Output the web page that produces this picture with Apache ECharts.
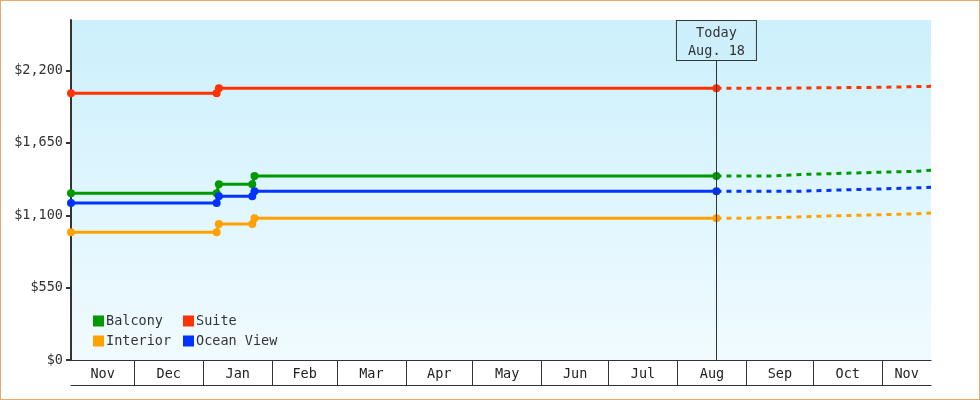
<!DOCTYPE html>
<html>
<head>
<meta charset="utf-8">
<script src="https://cdn.jsdelivr.net/npm/echarts@6/dist/echarts.min.js"></script>
<style>
  html, body { margin: 0; padding: 0; background: #fff; }
  #wrap { position: relative; width: 980px; height: 400px; }
  #chart { position: absolute; left: 0; top: 0; width: 980px; height: 400px; }
  #frame { position: absolute; left: 0; top: 0; width: 980px; height: 400px; box-sizing: border-box;
           border: 1px solid #e8aa66; pointer-events: none; }
</style>
</head>
<body>
<div id="wrap"><div id="chart"></div><div id="frame"></div></div>
<script>
// ---- data ----
const axisStart = '2023-11-02T14:00:00';
const axisEnd = '2024-11-22T21:00:00';
const today = '2024-08-18T12:00:00';
const todayLabel = 'Today\nAug. 18';
const monthBoundaries = ['2023-12-01','2024-01-01','2024-02-01','2024-03-01','2024-04-01','2024-05-01',
                         '2024-06-01','2024-07-01','2024-08-01','2024-09-01','2024-10-01','2024-11-01'];
const monthLabels = ['Nov','Dec','Jan','Feb','Mar','Apr','May','Jun','Jul','Aug','Sep','Oct','Nov'];
const yTicks = [0, 550, 1100, 1650, 2200];
const yMax = 2585;
const todayMarkerTop = 2281;

const seriesNames = ['Balcony', 'Interior', 'Suite', 'Ocean View'];
const seriesColors = ['#009a00', '#ffa200', '#ff3300', '#0033ff'];

const histDates = [axisStart, '2024-01-07', '2024-01-08', '2024-01-23', '2024-01-24', today];
const suiteHistDates = [axisStart, '2024-01-07', '2024-01-08', today];
const balconyHist = [1267, 1267, 1336, 1336, 1399, 1399];
const interiorHist = [971, 971, 1034, 1034, 1077, 1077];
const oceanHist = [1194, 1194, 1245, 1245, 1283, 1283];
const suiteHist = [2028, 2028, 2066, 2066];

const balconyFcDates = [today, '2024-09-12', '2024-09-28', '2024-10-16', '2024-10-30', '2024-11-16', axisEnd];
const balconyFc = [1399, 1412, 1420, 1427, 1435, 1442, 1442];
const interiorFcDates = [today, '2024-08-28', '2024-09-19', '2024-10-07', '2024-10-25', '2024-11-13', axisEnd];
const interiorFc = [1077, 1085, 1095, 1102, 1110, 1118, 1118];
const oceanFcDates = [today, '2024-09-24', '2024-10-18', '2024-11-12', axisEnd];
const oceanFc = [1283, 1295, 1306, 1313, 1313];
const suiteFcDates = [today, '2024-09-12', '2024-10-30', axisEnd];
const suiteFc = [2066, 2073, 2081, 2081];

// ---- build ----
const FONT = 'DejaVu Sans Mono';
const FS = 13.5;
const ts = s => new Date(s).getTime();
const zip = (d, v) => d.map((x, i) => [ts(x), v[i]]);
const bounds = [ts(axisStart)].concat(monthBoundaries.map(ts), [ts(axisEnd)]);
const mids = monthLabels.map((_, i) => (bounds[i] + bounds[i + 1]) / 2);

const hist = [
  zip(histDates, balconyHist), zip(histDates, interiorHist),
  zip(suiteHistDates, suiteHist), zip(histDates, oceanHist)
];
const fc = [
  zip(balconyFcDates, balconyFc), zip(interiorFcDates, interiorFc),
  zip(suiteFcDates, suiteFc), zip(oceanFcDates, oceanFc)
];

const series = [];
seriesNames.forEach((name, i) => {
  series.push({
    name, type: 'line', data: fc[i], step: 'end', showSymbol: false, symbol: 'none',
    lineStyle: { color: seriesColors[i], width: 3, type: [5, 5] },
    itemStyle: { color: seriesColors[i] }, z: 2, animation: false
  });
  series.push({
    name, type: 'line', data: hist[i], symbol: 'circle', symbolSize: 8,
    lineStyle: { color: seriesColors[i], width: 3 },
    itemStyle: { color: seriesColors[i] }, z: 3, animation: false
  });
});
series[0].markLine = {
  silent: true, symbol: 'none', animation: false,
  lineStyle: { color: '#333', width: 1, type: 'solid' },
  label: {
    show: true, position: 'end', distance: 0, formatter: todayLabel,
    fontFamily: FONT, fontSize: FS, color: '#333', lineHeight: 17.5,
    width: 79, align: 'center', padding: [4, 0, 0, 0],
    borderColor: '#333', borderWidth: 1, backgroundColor: '#cdeffc'
  },
  data: [[{ coord: [ts(today), 0] }, { coord: [ts(today), todayMarkerTop] }]]
};

const legendCommon = {
  orient: 'vertical', icon: 'rect', itemWidth: 11, itemHeight: 11, itemGap: 6, padding: 0,
  bottom: 52, textStyle: { fontFamily: FONT, fontSize: FS, color: '#333', padding: [0, 0, 0, -3] }
};

const chart = echarts.init(document.getElementById('chart'));
chart.setOption({
  animation: false,
  grid: {
    left: 71, right: 49, top: 20, bottom: 40, show: true, borderWidth: 0,
    backgroundColor: new echarts.graphic.LinearGradient(0, 0, 0, 1, [
      { offset: 0, color: '#ccf0fc' }, { offset: 1, color: '#f1fbff' }
    ])
  },
  legend: [
    Object.assign({}, legendCommon, { left: 93, data: [seriesNames[0], seriesNames[1]] }),
    Object.assign({}, legendCommon, { left: 183, data: [seriesNames[2], seriesNames[3]] })
  ],
  xAxis: [{
    type: 'value', min: ts(axisStart), max: ts(axisEnd),
    axisLine: { lineStyle: { color: '#333', width: 1 } },
    axisTick: { show: true, inside: false, length: 25, customValues: monthBoundaries.map(ts),
                lineStyle: { color: '#333', width: 1 } },
    axisLabel: {
      customValues: mids, margin: 7, fontFamily: FONT, fontSize: FS, color: '#222',
      formatter: v => { const k = mids.findIndex(m => Math.abs(m - v) < 1000); return k >= 0 ? monthLabels[k] : ''; }
    },
    splitLine: { show: false }
  }, {
    type: 'value', min: ts(axisStart), max: ts(axisEnd), position: 'bottom', offset: 25,
    axisLine: { lineStyle: { color: '#333', width: 1 } },
    axisTick: { show: false }, axisLabel: { show: false }, splitLine: { show: false }
  }],
  yAxis: {
    type: 'value', min: 0, max: yMax,
    axisLine: { show: true, lineStyle: { color: '#333', width: 2 } },
    axisTick: { show: true, length: 5, customValues: yTicks, lineStyle: { color: '#333', width: 2 } },
    axisLabel: {
      customValues: yTicks, margin: 8, fontFamily: FONT, fontSize: FS, color: '#333',
      formatter: v => '$' + v.toLocaleString('en-US')
    },
    splitLine: { show: false }
  },
  series
});
</script>
</body>
</html>
